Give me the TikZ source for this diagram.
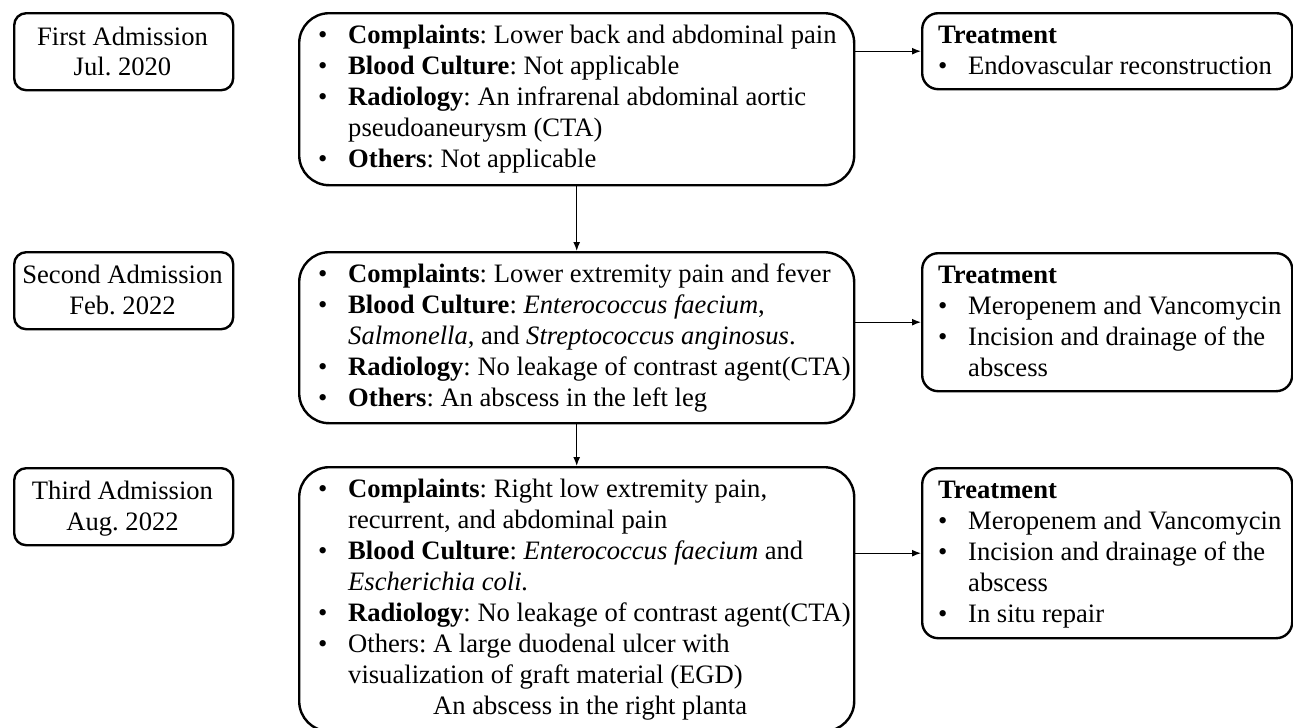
\documentclass[tikz,border=0pt]{standalone}
\usepackage{fontspec}
\setmainfont{Liberation Serif}
\usetikzlibrary{arrows.meta}
\newcommand{\blt}{\textbullet}
\frenchspacing
\begin{document}
\begin{tikzpicture}[x=1pt,y=-1pt,
  box/.style={draw, line width=2.4pt, inner sep=0pt, anchor=north west},
  adm/.style={box, rounded corners=12pt, minimum width=219pt, minimum height=77pt},
  mid/.style={box, rounded corners=30pt, minimum width=555pt},
  trt/.style={box, rounded corners=16pt, minimum width=370pt},
  txt/.style={inner sep=0pt, anchor=base west, font=\fontsize{26.6}{31}\selectfont\frenchspacing},
  ctxt/.style={inner sep=0pt, anchor=base, font=\fontsize{26.6}{31}\selectfont\frenchspacing},
  arr/.style={line width=1.3pt, -{Latex[length=9pt,width=7pt]}},
]
\useasboundingbox (0,0) rectangle (1293,728);

% admission boxes
\node[adm] (A1) at (13,12) {};
\node[adm] (A2) at (13,251) {};
\node[adm] (A3) at (13,467) {};
\node[ctxt] (A1t) at (122.5,45) {\begin{tabular}[t]{@{}c@{}}First Admission\\ Jul. 2020\end{tabular}};
\node[ctxt] (A2t) at (122.5,283) {\begin{tabular}[t]{@{}c@{}}Second Admission\\ Feb. 2022\end{tabular}};
\node[ctxt] (A3t) at (122.5,499) {\begin{tabular}[t]{@{}c@{}}Third Admission\\ Aug. 2022\end{tabular}};

% middle boxes
\node[mid, minimum height=172pt] (M1) at (298,12) {};
\node[mid, minimum height=171pt] (M2) at (298,251) {};
\node[mid, minimum height=264pt] (M3) at (298,466) {};

\node[txt] (M1t) at (318,43) {\begin{tabular}[t]{@{}p{30pt}@{}l@{}}
\blt & \textbf{Complaints}: Lower back and abdominal pain\\
\blt & \textbf{Blood Culture}: Not applicable\\
\blt & \textbf{Radiology}: An infrarenal abdominal aortic\\
     & pseudoaneurysm (CTA)\\
\blt & \textbf{Others}: Not applicable
\end{tabular}};

\node[txt] (M2t) at (318,282) {\begin{tabular}[t]{@{}p{30pt}@{}l@{}}
\blt & \textbf{Complaints}: Lower extremity pain and fever\\
\blt & \textbf{Blood Culture}: \textit{Enterococcus faecium},\\
     & \textit{Salmonella}, and \textit{Streptococcus anginosus}.\\
\blt & \textbf{Radiology}: No leakage of contrast agent(CTA)\\
\blt & \textbf{Others}: An abscess in the left leg
\end{tabular}};

\node[txt] (M3t) at (318,497) {\begin{tabular}[t]{@{}p{30pt}@{}l@{}}
\blt & \textbf{Complaints}: Right low extremity pain,\\
     & recurrent, and abdominal pain\\
\blt & \textbf{Blood Culture}: \textit{Enterococcus faecium} and\\
     & \textit{Escherichia coli.}\\
\blt & \textbf{Radiology}: No leakage of contrast agent(CTA)\\
\blt & Others: A large duodenal ulcer with\\
     & visualization of graft material (EGD)\\
     & \hspace{85pt}An abscess in the right planta
\end{tabular}};

% treatment boxes
\node[trt, minimum height=76pt] (T1) at (921,12) {};
\node[trt, minimum height=138pt] (T2) at (921,252) {};
\node[trt, minimum height=170pt] (T3) at (921,467) {};

\node[txt] (T1t) at (938,43) {\begin{tabular}[t]{@{}p{30pt}@{}l@{}}
\multicolumn{2}{@{}l@{}}{\textbf{Treatment}}\\
\blt & Endovascular reconstruction
\end{tabular}};

\node[txt] (T2t) at (938,283) {\begin{tabular}[t]{@{}p{30pt}@{}l@{}}
\multicolumn{2}{@{}l@{}}{\textbf{Treatment}}\\
\blt & Meropenem and Vancomycin\\
\blt & Incision and drainage of the\\
     & abscess
\end{tabular}};

\node[txt] (T3t) at (938,498) {\begin{tabular}[t]{@{}p{30pt}@{}l@{}}
\multicolumn{2}{@{}l@{}}{\textbf{Treatment}}\\
\blt & Meropenem and Vancomycin\\
\blt & Incision and drainage of the\\
     & abscess\\
\blt & In situ repair
\end{tabular}};

% connectors
\draw[arr] (M1.east |- T1.west) -- (T1.west);
\draw[arr] (M2.east |- T2.west) -- (T2.west);
\draw[arr] (M3.east |- T3.west) -- (T3.west);
\draw[arr] (M1.south) -- (M2.north);
\draw[arr] (M2.south) -- (M3.north);
\end{tikzpicture}
\end{document}
